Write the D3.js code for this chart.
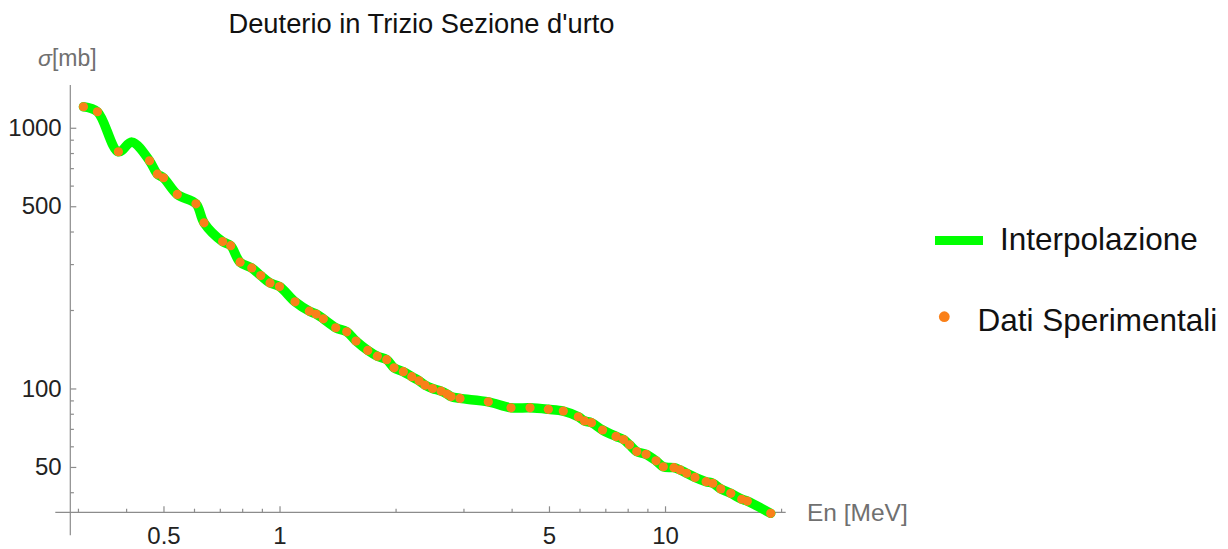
<!DOCTYPE html>
<html>
<head>
<meta charset="utf-8">
<script src="https://cdn.jsdelivr.net/npm/d3@7"></script>
<style>
  html, body { margin: 0; padding: 0; background: #ffffff; }
  svg { display: block; }
  text { font-family: "Liberation Sans", Arial, Helvetica, sans-serif; }
</style>
</head>
<body>
<svg id="chart" width="1228" height="549"></svg>
<script>
// ---- data ----
const energy = [0.310, 0.337, 0.382, 0.460, 0.482, 0.500, 0.543, 0.607, 0.637, 0.712,
                0.747, 0.790, 0.847, 0.894, 0.945, 1.000, 1.097, 1.195, 1.244, 1.299,
                1.399, 1.494, 1.579, 1.694, 1.794, 1.897, 1.982, 2.095, 2.203, 2.301,
                2.385, 2.494, 2.624, 2.720, 2.786, 2.939, 3.480, 3.985, 4.465, 4.981,
                5.447, 5.958, 6.183, 6.446, 6.885, 7.463, 7.804, 8.089, 8.446, 8.928,
                9.477, 9.899, 10.55, 10.94, 11.38, 11.96, 12.78, 13.30, 13.95, 14.81,
                15.81, 16.35, 18.80];
const sigma = [1204, 1152, 809, 747, 664, 643, 555, 511, 432, 366,
               353, 305, 290, 271, 254, 246, 215, 198, 193, 185,
               171, 165, 152, 140, 133, 129, 120, 116, 111, 107,
               103, 100, 97.7, 95.2, 93.1, 91.6, 88.9, 84.3, 84.3, 83.2,
               81.9, 77.9, 75.1, 73.9, 69.3, 65.5, 63.7, 60.8, 57.3, 55.9,
               52.8, 50.1, 49.7, 48.7, 47.3, 45.6, 43.9, 43.3, 41.2, 39.6,
               37.6, 37.0, 33.2];
// extra vertex of the interpolation curve (overshoot hump visible in the picture)
const curveExtraEnergy = [0.414];
const curveExtraSigma = [881];

const xMajorTicks = [0.5, 1, 5, 10];
const xMinorTicks = [0.3, 0.4, 0.6, 0.7, 0.8, 0.9, 2, 3, 4, 6, 7, 8, 9, 20];
const yMajorTicks = [50, 100, 500, 1000];
const yMinorTicks = [40, 60, 70, 80, 90, 200, 300, 400, 600, 700, 800, 900];
const xDomain = [0.2866, 20.56];
const yDomain = [33.5, 1459];

const titleText = "Deuterio in Trizio Sezione d'urto";
const xLabel = "En [MeV]";
const yLabelSym = "σ";
const yLabelUnit = "[mb]";
const legendLabels = ["Interpolazione", "Dati Sperimentali"];

// ---- styles ----
const GREEN = "#00ff00";
const ORANGE = "#fa8019";
const AXIS = "#8c8c8c";
const LABEL = "#707070";

const svg = d3.select("#chart");

const x = d3.scaleLog().domain(xDomain).range([70.3, 785.7]);
const y = d3.scaleLog().domain(yDomain).range([512.3, 85]);

// ---- axes ----
const axisG = svg.append("g");
axisG.append("line")
  .attr("x1", x(xDomain[0]) - 15).attr("x2", x(xDomain[1]))
  .attr("y1", y(yDomain[0])).attr("y2", y(yDomain[0]))
  .attr("stroke", AXIS).attr("stroke-width", 1.2);
axisG.append("line")
  .attr("x1", x(xDomain[0])).attr("x2", x(xDomain[0]))
  .attr("y1", y(yDomain[1])).attr("y2", y(yDomain[0]) + 23)
  .attr("stroke", AXIS).attr("stroke-width", 1.2);

function styleAxis(g) {
  g.select(".domain").remove();
  g.selectAll(".tick line").attr("stroke", AXIS).attr("stroke-width", 1.2);
  g.selectAll(".tick text")
    .attr("fill", "#222")
    .style("font-size", "24px")
    .style("font-family", "'Liberation Sans', Arial, sans-serif");
}

svg.append("g")
  .attr("transform", `translate(0,${y(yDomain[0])})`)
  .call(d3.axisBottom(x).tickValues(xMajorTicks).tickSize(-6).tickPadding(14.5)
        .tickFormat(d3.format("")))
  .call(styleAxis);
svg.append("g")
  .attr("transform", `translate(0,${y(yDomain[0])})`)
  .call(d3.axisBottom(x).tickValues(xMinorTicks).tickSize(-3.6).tickFormat(""))
  .call(styleAxis);
svg.append("g")
  .attr("transform", `translate(${x(xDomain[0])},0)`)
  .call(d3.axisLeft(y).tickValues(yMajorTicks).tickSize(-6).tickPadding(8.6)
        .tickFormat(d3.format("")))
  .call(styleAxis);
svg.append("g")
  .attr("transform", `translate(${x(xDomain[0])},0)`)
  .call(d3.axisLeft(y).tickValues(yMinorTicks).tickSize(-3.6).tickFormat(""))
  .call(styleAxis);

// ---- interpolation curve ----
const curvePts = energy.map((e, i) => [e, sigma[i]])
  .concat(curveExtraEnergy.map((e, i) => [e, curveExtraSigma[i]]))
  .sort((a, b) => a[0] - b[0]);

const line = d3.line()
  .x(d => x(d[0])).y(d => y(d[1]))
  .curve(d3.curveCatmullRom.alpha(0.5));

svg.append("path")
  .datum(curvePts)
  .attr("d", line)
  .attr("fill", "none")
  .attr("stroke", GREEN)
  .attr("stroke-width", 9.5)
  .attr("stroke-linejoin", "round")
  .attr("stroke-linecap", "round");

// ---- data points ----
svg.append("g").selectAll("circle")
  .data(energy.map((e, i) => [e, sigma[i]]))
  .join("circle")
  .attr("cx", d => x(d[0]))
  .attr("cy", d => y(d[1]))
  .attr("r", 4.6)
  .attr("fill", ORANGE);

// ---- labels ----
svg.append("text")
  .attr("x", 421.5).attr("y", 33.4)
  .attr("text-anchor", "middle")
  .style("font-size", "27.3px")
  .attr("fill", "#111")
  .text(titleText);

const yl = svg.append("text")
  .attr("x", 38).attr("y", 66)
  .style("font-size", "23px")
  .attr("fill", LABEL);
yl.append("tspan").style("font-style", "italic").text(yLabelSym);
yl.append("tspan").text(yLabelUnit);

svg.append("text")
  .attr("x", 807).attr("y", 521)
  .style("font-size", "24.5px")
  .attr("fill", LABEL)
  .text(xLabel);

// ---- legend ----
const leg = svg.append("g");
leg.append("line")
  .attr("x1", 935).attr("x2", 983).attr("y1", 240.5).attr("y2", 240.5)
  .attr("stroke", GREEN).attr("stroke-width", 9);
leg.append("text")
  .attr("x", 1000).attr("y", 250)
  .style("font-size", "31.5px")
  .attr("fill", "#111")
  .text(legendLabels[0]);
leg.append("circle")
  .attr("cx", 944.3).attr("cy", 316.7).attr("r", 5.4)
  .attr("fill", ORANGE);
leg.append("text")
  .attr("x", 977.5).attr("y", 330.8)
  .style("font-size", "31.5px")
  .attr("fill", "#111")
  .text(legendLabels[1]);
</script>
</body>
</html>
